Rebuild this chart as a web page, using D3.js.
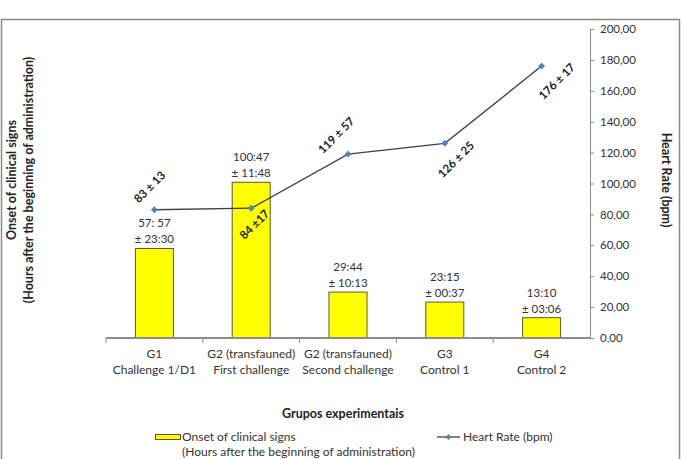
<!DOCTYPE html>
<html>
<head>
<meta charset="utf-8">
<script src="https://cdn.jsdelivr.net/npm/d3@7"></script>
<style>
  body { margin: 0; background: #fff; }
  svg { display: block; font-family: Lato, "Open Sans", sans-serif; }
</style>
</head>
<body>
<div id="chart"></div>
<script>
// categories (two lines each)
const groups = ['G1', 'G2 (transfauned)', 'G2 (transfauned)', 'G3', 'G4'];
const groupSub = ['Challenge  1/D1', 'First challenge', 'Second challenge', 'Control 1', 'Control 2'];

// onset of clinical signs, hours (hh:mm converted)
const onsetHours = [57 + 57 / 60, 100 + 47 / 60, 29 + 44 / 60, 23 + 15 / 60, 13 + 10 / 60];
const onsetLabel = ['57: 57', '100:47', '29:44', '23:15', '13:10'];
const onsetSd = ['± 23:30', '± 11:48', '± 10:13', '± 00:37', '± 03:06'];

// heart rate
const heartRate = [83, 84, 119, 126, 176];
const heartLabel = ['83 ± 13', '84 ±17', '119 ± 57', '126 ± 25', '176 ± 17'];

const rightTicks = [0, 20, 40, 60, 80, 100, 120, 140, 160, 180, 200];

const W = 684, H = 459;
const margin = {left: 106, right: 94, top: 29, bottom: 121};

const svg = d3.select('#chart').append('svg')
  .attr('width', W)
  .attr('height', H);

// outer frame
svg.append('rect')
  .attr('x', 1.5).attr('y', 19.5)
  .attr('width', 678).attr('height', 460)
  .attr('fill', 'none')
  .attr('stroke', '#8a8a8a')
  .attr('stroke-width', 1.5);

const x = d3.scaleBand()
  .domain(d3.range(groups.length))
  .range([margin.left, W - margin.right]);

const yBar = d3.scaleLinear().domain([0, 200]).range([H - margin.bottom, margin.top]);
const yHr = d3.scaleLinear().domain([0, 200]).range([H - margin.bottom, margin.top]);

const g = svg.append('g');

// bars
g.selectAll('.bar')
  .data(onsetHours)
  .enter().append('rect')
  .attr('class', 'bar')
  .attr('x', (d, i) => x(i) + x.bandwidth() / 2 - 19)
  .attr('width', 38)
  .attr('y', d => yBar(d))
  .attr('height', d => yBar(0) - yBar(d))
  .attr('fill', '#ffff00')
  .attr('stroke', '#5a5a3a')
  .attr('stroke-width', 1);

// bar labels
const barLab = g.selectAll('.barlab')
  .data(onsetHours)
  .enter().append('text')
  .attr('class', 'barlab')
  .attr('text-anchor', 'middle')
  .attr('font-size', 11.5)
  .attr('fill', '#333');
barLab.append('tspan')
  .attr('x', (d, i) => x(i) + x.bandwidth() / 2)
  .attr('y', d => yBar(d) - 21)
  .text((d, i) => onsetLabel[i]);
barLab.append('tspan')
  .attr('x', (d, i) => x(i) + x.bandwidth() / 2)
  .attr('y', d => yBar(d) - 5)
  .text((d, i) => onsetSd[i]);

// x axis
const xAxisY = yBar(0);
g.append('line')
  .attr('x1', margin.left).attr('x2', W - margin.right)
  .attr('y1', xAxisY).attr('y2', xAxisY)
  .attr('stroke', '#8c8c8c').attr('stroke-width', 2);
const bounds = d3.range(groups.length + 1).map(i => margin.left + i * x.step());
g.selectAll('.xtick')
  .data(bounds.slice(0, -1))
  .enter().append('line')
  .attr('x1', d => d).attr('x2', d => d)
  .attr('y1', xAxisY).attr('y2', xAxisY + 5)
  .attr('stroke', '#8c8c8c');

const xl = g.selectAll('.xlab')
  .data(groups)
  .enter().append('text')
  .attr('text-anchor', 'middle')
  .attr('font-size', 12)
  .attr('fill', '#333');
xl.append('tspan')
  .attr('x', (d, i) => x(i) + x.bandwidth() / 2)
  .attr('y', xAxisY + 20)
  .text(d => d);
xl.append('tspan')
  .attr('x', (d, i) => x(i) + x.bandwidth() / 2)
  .attr('y', xAxisY + 36)
  .text((d, i) => groupSub[i]);

// right axis
const rAxis = g.append('g')
  .attr('transform', 'translate(' + (W - margin.right) + ',0)')
  .call(d3.axisRight(yHr).tickValues(rightTicks).tickSize(4).tickPadding(6)
    .tickFormat(d => d3.format('.2f')(d).replace('.', ',')));
rAxis.select('.domain').attr('stroke', '#8c8c8c');
rAxis.selectAll('.tick line').attr('stroke', '#8c8c8c');
rAxis.selectAll('text')
  .attr('font-family', 'Lato, "Open Sans", sans-serif')
  .attr('font-size', 11.5)
  .attr('fill', '#333');

// line series
const line = d3.line()
  .x((d, i) => x(i) + x.bandwidth() / 2)
  .y(d => yHr(d));
g.append('path')
  .datum(heartRate)
  .attr('d', line)
  .attr('fill', 'none')
  .attr('stroke', '#404040')
  .attr('stroke-width', 1.3);
g.selectAll('.pt')
  .data(heartRate)
  .enter().append('path')
  .attr('d', d3.symbol(d3.symbolDiamond2, 30))
  .attr('transform', (d, i) => 'translate(' + (x(i) + x.bandwidth() / 2) + ',' + yHr(d) + ')')
  .attr('fill', '#4f81bd');

// heart rate labels (rotated)
const hrOff = [[-4, -22], [4, 17], [-11, -18], [12, 17], [16, 16]];
g.selectAll('.hrlab')
  .data(heartRate)
  .enter().append('text')
  .attr('text-anchor', 'middle')
  .attr('dominant-baseline', 'middle')
  .attr('font-size', 11.5)
  .attr('font-weight', 'bold')
  .attr('fill', '#222')
  .attr('transform', (d, i) => 'translate(' + (x(i) + x.bandwidth() / 2 + hrOff[i][0]) + ',' +
    (yHr(d) + hrOff[i][1]) + ') rotate(-45)')
  .text((d, i) => heartLabel[i]);

// axis titles
const lt = svg.append('text')
  .attr('transform', 'translate(0,180) rotate(-90)')
  .attr('text-anchor', 'middle')
  .attr('font-size', 12.5)
  .attr('font-weight', 'bold')
  .attr('fill', '#222');
lt.append('tspan').attr('x', 0).attr('y', 16).text('Onset of clinical signs');
lt.append('tspan').attr('x', 0).attr('y', 33).text('(Hours after the beginning of administration)');

svg.append('text')
  .attr('transform', 'translate(662,180) rotate(90)')
  .attr('text-anchor', 'middle')
  .attr('font-size', 12.5)
  .attr('font-weight', 'bold')
  .attr('fill', '#222')
  .text('Heart Rate (bpm)');

svg.append('text')
  .attr('x', 343).attr('y', 418)
  .attr('text-anchor', 'middle')
  .attr('font-size', 12.5)
  .attr('font-weight', 'bold')
  .attr('fill', '#222')
  .text('Grupos experimentais');

// legend
const lg = svg.append('g');
lg.append('rect')
  .attr('x', 155.5).attr('y', 434.5).attr('width', 25).attr('height', 5)
  .attr('fill', '#ffff00').attr('stroke', '#5a5a3a');
const lgt = lg.append('text')
  .attr('font-size', 12)
  .attr('fill', '#333');
lgt.append('tspan').attr('x', 182).attr('y', 441).text('Onset of clinical signs');
lgt.append('tspan').attr('x', 182).attr('y', 456).text('(Hours after the beginning of administration)');

lg.append('line')
  .attr('x1', 437).attr('x2', 460).attr('y1', 437).attr('y2', 437)
  .attr('stroke', '#404040').attr('stroke-width', 1.3);
lg.append('path')
  .attr('d', d3.symbol(d3.symbolDiamond2, 22))
  .attr('transform', 'translate(448.5,437)')
  .attr('fill', '#4f81bd');
lg.append('text')
  .attr('x', 463).attr('y', 441)
  .attr('font-size', 12)
  .attr('fill', '#333')
  .text('Heart Rate (bpm)');
</script>
</body>
</html>
